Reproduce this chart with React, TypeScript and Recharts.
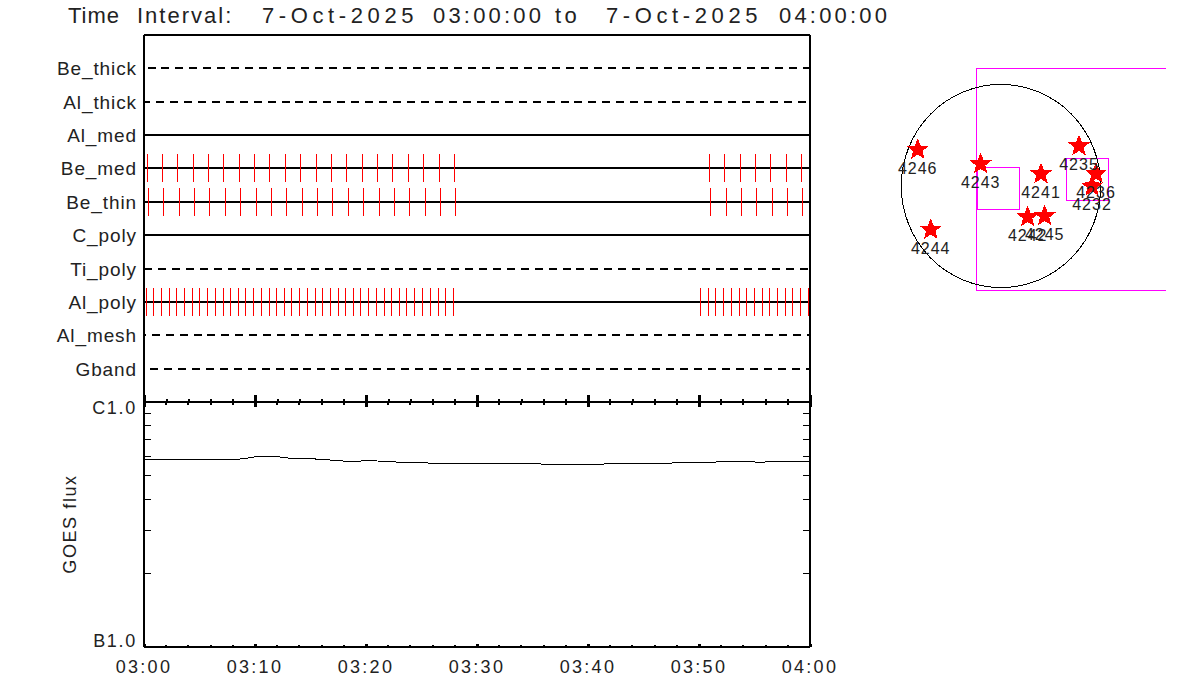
import React from "react";
import {
  ScatterChart, Scatter, XAxis, YAxis, ReferenceLine, ReferenceDot, ReferenceArea,
  ComposedChart, Line,
} from "recharts";

const titleWords = ["Time ", "Interval:  ", "7-Oct-2025 ", "03:00:00 ", "to  ", "7-Oct-2025 ", "04:00:00"];
const titleWordX = [68, 137, 262, 433, 555, 606, 779];
const titleWordSpacing = [1, 2, 4.6, 3.2, 3.5, 4.6, 3.2];
const channels = ["Be_thick", "Al_thick", "Al_med", "Be_med", "Be_thin", "C_poly", "Ti_poly", "Al_poly", "Al_mesh", "Gband"];
const channelDashed = [true, true, false, false, false, false, true, false, true, true];
const channelDashOffset = [-3.5, 2, 0, 0, 0, 0, 0, 0, 6.3, -6];

const beMedMinutes = [0.25, 1.6, 2.96, 4.4, 5.75, 7.11, 8.55, 9.9, 11.25, 12.7, 14.05, 15.49, 16.84, 18.2, 19.64, 20.99, 22.34, 23.79, 25.14, 26.58, 27.93, 50.93, 52.28, 53.72, 55.08, 56.43, 57.87, 59.22];
const beThinMinutes = [0.34, 1.7, 3.14, 4.49, 5.84, 7.29, 8.64, 10.08, 11.43, 12.79, 14.23, 15.58, 16.93, 18.38, 19.73, 21.17, 22.52, 23.88, 25.32, 26.67, 28.03, 51.02, 52.46, 53.81, 55.17, 56.61, 57.96, 59.31];
const alPolyMinutes = [0.16, 0.79, 1.51, 2.24, 2.87, 3.59, 4.31, 4.94, 5.66, 6.38, 7.11, 7.74, 8.46, 9.09, 9.81, 10.53, 11.25, 11.88, 12.61, 13.24, 13.96, 14.68, 15.4, 16.03, 16.75, 17.48, 18.11, 18.83, 19.46, 20.18, 20.9, 21.62, 22.25, 22.98, 23.61, 24.33, 25.05, 25.77, 26.49, 27.12, 27.84, 50.12, 50.84, 51.47, 52.19, 52.91, 53.63, 54.27, 54.99, 55.71, 56.34, 57.06, 57.78, 58.41, 59.13, 59.86];

const minorMinutes = [0, 2, 4, 6, 8, 10, 12, 14, 16, 18, 20, 22, 24, 26, 28, 30, 32, 34, 36, 38, 40, 42, 44, 46, 48, 50, 52, 54, 56, 58, 60];
const timeLabels: Record<number, string> = { 0: "03:00", 10: "03:10", 20: "03:20", 30: "03:30", 40: "03:40", 50: "03:50", 60: "04:00" };

const fluxMinutes = [0, 8.4, 9.5, 10.3, 11.8, 13.2, 14.6, 16.5, 17, 18.8, 20.5, 21.5, 23.5, 26.6, 35.5, 35.9, 41.3, 41.7, 47.4, 47.8, 51.4, 51.8, 54.9, 55.1, 55.9, 56.1, 60];
const fluxValues = [5.83e-7, 5.83e-7, 5.92e-7, 6.0e-7, 6.0e-7, 5.89e-7, 5.87e-7, 5.83e-7, 5.77e-7, 5.72e-7, 5.77e-7, 5.72e-7, 5.67e-7, 5.62e-7, 5.62e-7, 5.56e-7, 5.56e-7, 5.62e-7, 5.62e-7, 5.67e-7, 5.67e-7, 5.72e-7, 5.72e-7, 5.67e-7, 5.67e-7, 5.72e-7, 5.72e-7];
const fluxTicks = [1e-7, 2e-7, 3e-7, 4e-7, 5e-7, 6e-7, 7e-7, 8e-7, 9e-7, 1e-6];

const regionNames = ["4246", "4243", "4244", "4241", "4242", "4245", "4235", "4236", "4232"];
const regionX = [-833, -203, -703, 400, 267, 437, 780, 950, 910];
const regionY = [364, 220, -436, 120, -310, -300, 400, 124, -3];
const fovLarge = { x1: -245, x2: 2000, y1: 1175, y2: -1045 };
const fovSmallA = { x1: -235, x2: 185, y1: 185, y2: -235 };
const fovSmallB = { x1: 655, x2: 1075, y1: 275, y2: -145 };

const channelTicks = channels.map((_, i) => i);
const makeMarks = (minutes: number[], channel: number) => minutes.map((minute) => ({ minute, channel }));
const beMedMarks = makeMarks(beMedMinutes, 3);
const beThinMarks = makeMarks(beThinMinutes, 4);
const alPolyMarks = makeMarks(alPolyMinutes, 7);
const fluxData = fluxMinutes.map((minute, i) => ({ minute, flux: fluxValues[i] }));
const regionData = regionNames.map((name, i) => ({ name, sx: regionX[i], sy: regionY[i] }));

const FONT = "'Liberation Sans', sans-serif";
const TEXT = "#222";
const SVG_STYLE: React.CSSProperties = { position: "absolute", left: 0, top: 0, pointerEvents: "none", shapeRendering: "crispEdges" };

const RedTick = (p: any) => <line x1={p.cx} x2={p.cx} y1={p.cy - 14} y2={p.cy + 14} stroke="#ff0000" strokeWidth={1} />;

const xTick = (major: number, minor: number, showLabel = false) => (p: any) => {
  const isMajor = p.payload.value % 10 === 0;
  const len = isMajor ? major : minor;
  return (
    <g>
      <line x1={p.x} x2={p.x} y1={p.y} y2={p.y + len} stroke="#000" strokeWidth={isMajor ? 3 : 2} />
      {showLabel && isMajor ? (
        <text x={p.x} y={p.y + 26} textAnchor="middle" fontFamily={FONT} fontSize={18} letterSpacing={2.25} fill={TEXT}>
          {timeLabels[p.payload.value]}
        </text>
      ) : null}
    </g>
  );
};

const ChannelTick = (p: any) => (
  <text x={137} y={p.y + 7} textAnchor="end" fontFamily={FONT} fontSize={19} letterSpacing={0.9} fill={TEXT}>
    {channels[p.payload.value]}
  </text>
);

const FluxLeftTick = (p: any) => {
  const v = p.payload.value;
  const label = v === 1e-7 ? "B1.0" : v === 1e-6 ? "C1.0" : null;
  return (
    <g>
      {label ? null : <line x1={144} x2={151} y1={p.y} y2={p.y} stroke="#000" strokeWidth={1} />}
      {label ? (
        <text x={137} y={p.y + (v === 1e-6 ? 12 : 0)} textAnchor="end" fontFamily={FONT} fontSize={18} letterSpacing={1.7} fill={TEXT}>
          {label}
        </text>
      ) : null}
    </g>
  );
};

const FluxRightTick = (p: any) => {
  const v = p.payload.value;
  return v === 1e-7 || v === 1e-6 ? <g /> : <line x1={803} x2={810} y1={p.y} y2={p.y} stroke="#000" strokeWidth={1} />;
};

const Star = (p: any) => {
  const R = 11.5;
  const r = 5;
  const pts: string[] = [];
  for (let i = 0; i < 10; i++) {
    const a = (i * Math.PI) / 5 - Math.PI / 2;
    const d = i % 2 === 0 ? R : r;
    pts.push(`${p.cx + d * Math.cos(a)},${p.cy + d * Math.sin(a)}`);
  }
  return <polygon points={pts.join(" ")} fill="#ff0000" stroke="none" />;
};

const RegionLabel = (p: any) => (
  <text x={p.cx} y={p.cy + 24} textAnchor="middle" fontFamily={FONT} fontSize={16} letterSpacing={1} fill={TEXT}>
    {p.payload.name}
  </text>
);

const Disk = (p: any) => <ellipse cx={p.cx} cy={p.cy} rx={99.7} ry={101.6} fill="none" stroke="#000" strokeWidth={1} />;

export default function App() {
  return (
    <div style={{ position: "absolute", left: 0, top: 0, width: 1200, height: 700, background: "#fff", overflow: "hidden" }}>
      <ScatterChart width={1200} height={700} margin={{ left: 0, right: 389, top: 34, bottom: 297 }} style={SVG_STYLE}>
        <XAxis xAxisId="bottom" orientation="bottom" type="number" dataKey="minute" domain={[-0.05, 60]} ticks={minorMinutes} interval={0} height={1} tickSize={0} tickMargin={0} stroke="#000" strokeWidth={2} tick={xTick(-7, -3)} />
        <XAxis xAxisId="top" orientation="top" type="number" dataKey="minute" domain={[0, 60]} ticks={minorMinutes} interval={0} height={1} tickSize={0} tickMargin={0} stroke="#000" strokeWidth={2} tick={xTick(7, 3.5)} />
        <YAxis yAxisId="left" type="number" dataKey="channel" domain={[-1, 10]} reversed ticks={channelTicks} interval={0} width={144} tickSize={0} tickMargin={0} stroke="#000" strokeWidth={2} tick={ChannelTick} />
        <YAxis yAxisId="right" orientation="right" type="number" domain={[-1, 10]} reversed ticks={[]} width={1} stroke="#000" strokeWidth={2} />
        {channels.map((c, i) => (
          <ReferenceLine key={c} xAxisId="bottom" yAxisId="left" y={i} stroke="#000" strokeWidth={2} strokeDasharray={channelDashed[i] ? "8 5.95" : undefined} strokeDashoffset={channelDashOffset[i]} />
        ))}
        <Scatter xAxisId="bottom" yAxisId="left" data={beMedMarks} shape={RedTick} isAnimationActive={false} />
        <Scatter xAxisId="bottom" yAxisId="left" data={beThinMarks} shape={RedTick} isAnimationActive={false} />
        <Scatter xAxisId="bottom" yAxisId="left" data={alPolyMarks} shape={RedTick} isAnimationActive={false} />
      </ScatterChart>

      <ComposedChart width={1200} height={700} data={fluxData} margin={{ left: 0, right: 389, top: 401, bottom: 52 }} style={SVG_STYLE}>
        <XAxis xAxisId="bottom" orientation="bottom" type="number" dataKey="minute" domain={[0, 60]} ticks={minorMinutes} interval={0} height={1} tickSize={0} tickMargin={0} stroke="#000" strokeWidth={2} tick={xTick(-3.5, -2, true)} />
        <XAxis xAxisId="top" orientation="top" type="number" dataKey="minute" domain={[0, 60]} ticks={minorMinutes} interval={0} height={1} tickSize={0} tickMargin={0} stroke="#000" strokeWidth={2} tick={xTick(5, 2.5)} />
        <YAxis yAxisId="left" type="number" scale="log" domain={[1e-7, 1e-6]} ticks={fluxTicks} interval={0} width={144} tickSize={0} tickMargin={0} stroke="#000" strokeWidth={2} tick={FluxLeftTick} allowDataOverflow />
        <YAxis yAxisId="right" orientation="right" type="number" scale="log" domain={[1e-7, 1e-6]} ticks={fluxTicks} interval={0} width={1} tickSize={0} tickMargin={0} stroke="#000" strokeWidth={2} tick={FluxRightTick} allowDataOverflow />
        <Line xAxisId="bottom" yAxisId="left" dataKey="flux" type="linear" stroke="#000" strokeWidth={1} dot={false} isAnimationActive={false} />
      </ComposedChart>

      <svg width={1200} height={700} style={{ position: "absolute", left: 0, top: 0, pointerEvents: "none" }}>
        <text y={23} fontFamily={FONT} fontSize={22} fill={TEXT} style={{ whiteSpace: "pre" }}>
          {titleWords.map((word, i) => (
            <tspan key={i} x={titleWordX[i]} letterSpacing={titleWordSpacing[i]}>{word}</tspan>
          ))}
        </text>
        <text transform="translate(76,524) rotate(-90)" textAnchor="middle" fontFamily={FONT} fontSize={18} letterSpacing={1.6} fill={TEXT}>GOES flux</text>
      </svg>

      <ScatterChart width={1200} height={700} margin={{ left: 891, right: 34, top: 66, bottom: 394 }} style={SVG_STYLE}>
        <XAxis type="number" dataKey="sx" domain={[-1100, 1650]} hide allowDataOverflow />
        <YAxis type="number" dataKey="sy" domain={[-1200, 1200]} hide allowDataOverflow />
        <ReferenceDot x={0} y={0} shape={Disk} ifOverflow="visible" />
        <ReferenceArea {...fovLarge} fill="none" fillOpacity={0} stroke="#ff00ff" strokeWidth={1} ifOverflow="hidden" />
        <ReferenceArea {...fovSmallA} fill="none" fillOpacity={0} stroke="#ff00ff" strokeWidth={1} ifOverflow="visible" />
        <ReferenceArea {...fovSmallB} fill="none" fillOpacity={0} stroke="#ff00ff" strokeWidth={1} ifOverflow="visible" />
        <Scatter data={regionData} shape={Star} isAnimationActive={false} />
        <Scatter data={regionData} shape={RegionLabel} isAnimationActive={false} />
      </ScatterChart>
    </div>
  );
}
